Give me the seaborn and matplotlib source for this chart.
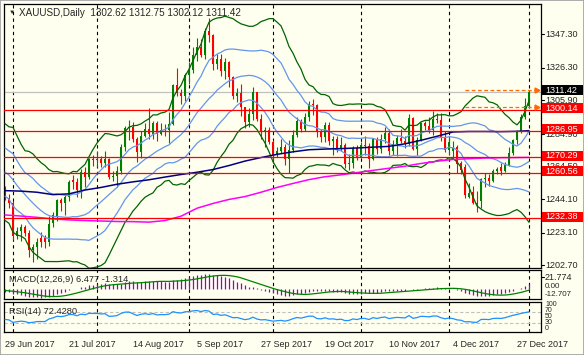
import numpy as np
import pandas as pd
import matplotlib
matplotlib.use("Agg")
import matplotlib.pyplot as plt
from matplotlib.patches import Rectangle
import seaborn as sns

# ------------------------------------------------------------------ data
symbol = "XAUUSD,Daily"
holidays = ["2017-12-25", "2018-01-01"]
dates = pd.bdate_range("2017-06-29", "2018-01-02")
dates = dates[~dates.isin(pd.to_datetime(holidays))]

opens = [1249.5, 1244.8, 1241.8, 1220.9, 1224.3, 1226.8, 1223.3, 1212.3, 1214.2, 1219.8,
         1219.8, 1217.4, 1229.3, 1233.4, 1243.6, 1241.7, 1245.6, 1256.0, 1255.2, 1249.9,
         1261.3, 1258.3, 1269.5, 1268.9, 1269.2, 1267.1, 1269.0, 1257.8, 1258.6, 1261.9,
         1276.8, 1288.4, 1289.4, 1281.8, 1273.6, 1283.6, 1288.3, 1284.7, 1291.8, 1285.0,
         1287.7, 1287.2, 1291.3, 1315.6, 1310.4, 1308.9, 1321.9, 1324.9, 1334.1, 1339.3,
         1334.5, 1349.5, 1346.7, 1328.6, 1332.1, 1324.1, 1329.8, 1320.4, 1308.9, 1310.7,
         1301.9, 1292.6, 1297.4, 1311.0, 1294.2, 1286.0, 1287.5, 1279.8, 1271.9, 1274.6,
         1276.6, 1269.1, 1274.8, 1284.5, 1293.0, 1288.3, 1295.8, 1303.6, 1302.9, 1285.9,
         1283.0, 1290.6, 1280.5, 1282.0, 1275.6, 1278.2, 1265.9, 1266.5, 1275.9, 1270.6,
         1277.8, 1277.6, 1269.5, 1281.5, 1275.4, 1282.0, 1285.4, 1274.2, 1278.7, 1282.2,
         1280.4, 1278.5, 1294.7, 1275.5, 1281.1, 1291.7, 1290.0, 1287.3, 1294.3, 1294.0,
         1282.7, 1275.0, 1274.4, 1276.5, 1266.5, 1264.5, 1245.7, 1248.5, 1242.0, 1243.0,
         1256.5, 1257.2, 1255.5, 1261.8, 1264.0, 1262.0, 1265.8, 1273.0, 1281.0, 1286.8,
         1295.5, 1302.62]
highs = [1252.5, 1247.5, 1242.8, 1227.0, 1228.5, 1228.1, 1224.6, 1216.0, 1220.0, 1223.7,
         1221.5, 1233.6, 1236.0, 1244.0, 1245.0, 1247.4, 1256.0, 1259.4, 1257.1, 1263.0,
         1264.0, 1270.0, 1271.7, 1274.3, 1271.2, 1274.0, 1270.0, 1262.0, 1264.7, 1278.4,
         1290.0, 1293.5, 1292.5, 1283.0, 1286.5, 1292.0, 1301.1, 1293.2, 1293.2, 1291.6,
         1290.9, 1298.6, 1316.0, 1326.1, 1313.0, 1322.9, 1330.2, 1339.4, 1344.8, 1344.5,
         1351.4, 1357.6, 1347.5, 1335.0, 1334.9, 1332.5, 1330.5, 1321.5, 1314.0, 1316.0,
         1301.9, 1301.5, 1314.3, 1311.0, 1297.2, 1289.6, 1289.6, 1281.4, 1276.8, 1281.5,
         1278.9, 1281.4, 1287.5, 1295.6, 1294.6, 1297.8, 1305.6, 1306.8, 1303.9, 1287.8,
         1292.5, 1292.4, 1283.9, 1283.4, 1283.3, 1279.4, 1272.6, 1277.7, 1278.3, 1279.8,
         1283.4, 1279.4, 1282.4, 1282.8, 1284.9, 1289.0, 1287.9, 1281.0, 1284.0, 1288.2,
         1283.7, 1297.5, 1295.4, 1283.0, 1292.5, 1293.1, 1295.4, 1299.6, 1297.8, 1298.0,
         1287.1, 1283.4, 1280.5, 1278.0, 1268.1, 1266.0, 1254.5, 1252.5, 1249.4, 1257.6,
         1260.8, 1259.7, 1263.1, 1264.2, 1266.9, 1267.6, 1276.5, 1281.7, 1287.4, 1297.6,
         1307.6, 1312.75]
lows = [1243.5, 1238.5, 1218.6, 1219.3, 1217.8, 1221.0, 1208.0, 1204.9, 1206.8, 1214.5,
        1213.5, 1214.6, 1226.8, 1230.4, 1236.7, 1234.2, 1243.3, 1250.5, 1245.4, 1245.0,
        1252.0, 1256.9, 1265.0, 1264.6, 1264.6, 1264.0, 1256.8, 1255.7, 1251.8, 1259.8,
        1274.1, 1281.2, 1280.2, 1267.5, 1269.8, 1282.9, 1281.8, 1281.8, 1280.7, 1284.6,
        1283.6, 1279.2, 1290.8, 1308.5, 1303.9, 1305.5, 1316.0, 1323.0, 1330.4, 1333.3,
        1331.8, 1342.6, 1325.0, 1325.6, 1321.4, 1319.3, 1314.5, 1307.0, 1305.1, 1295.9,
        1288.9, 1289.0, 1293.9, 1292.9, 1281.6, 1276.7, 1278.4, 1266.8, 1270.4, 1272.9,
        1265.8, 1260.8, 1273.6, 1283.3, 1286.0, 1286.5, 1292.8, 1297.0, 1282.8, 1279.7,
        1280.2, 1278.0, 1271.5, 1273.6, 1274.3, 1263.8, 1262.5, 1263.8, 1268.6, 1270.0,
        1271.7, 1263.6, 1268.9, 1272.6, 1273.0, 1279.0, 1271.7, 1271.7, 1271.3, 1279.5,
        1276.0, 1277.4, 1274.9, 1272.0, 1280.6, 1287.6, 1285.7, 1284.1, 1292.0, 1280.8,
        1273.8, 1271.6, 1270.1, 1260.5, 1260.1, 1244.7, 1244.6, 1241.0, 1236.4, 1238.4,
        1251.6, 1252.7, 1255.0, 1260.1, 1259.1, 1261.2, 1265.1, 1272.0, 1278.8, 1285.8,
        1294.6, 1302.12]
closes = [1244.7, 1241.6, 1220.9, 1224.3, 1226.8, 1223.3, 1212.3, 1214.2, 1217.4, 1217.6,
          1217.4, 1228.8, 1234.1, 1243.5, 1241.7, 1245.6, 1255.0, 1255.2, 1249.9, 1261.2,
          1258.3, 1269.5, 1268.9, 1269.2, 1267.1, 1269.0, 1257.8, 1258.6, 1261.9, 1276.8,
          1288.4, 1289.4, 1281.8, 1273.6, 1283.6, 1288.3, 1284.7, 1291.8, 1285.0, 1287.7,
          1287.2, 1291.3, 1315.6, 1310.4, 1308.9, 1321.9, 1324.9, 1334.1, 1339.3, 1334.5,
          1349.5, 1346.7, 1328.6, 1332.1, 1324.1, 1329.8, 1320.4, 1308.9, 1310.7, 1301.9,
          1292.6, 1297.4, 1311.0, 1294.2, 1286.0, 1287.5, 1279.8, 1271.9, 1274.6, 1276.6,
          1269.1, 1274.8, 1284.5, 1293.0, 1288.3, 1295.8, 1303.6, 1302.9, 1285.9, 1283.0,
          1290.6, 1280.5, 1282.0, 1275.6, 1278.2, 1265.9, 1266.5, 1275.9, 1270.6, 1277.8,
          1277.6, 1269.5, 1281.5, 1275.4, 1282.0, 1285.4, 1274.2, 1278.7, 1282.2, 1280.4,
          1278.5, 1294.7, 1275.5, 1281.1, 1291.7, 1290.0, 1287.3, 1294.3, 1294.0, 1282.7,
          1275.0, 1280.1, 1276.0, 1266.0, 1262.5, 1247.0, 1248.0, 1242.0, 1241.0, 1256.5,
          1257.2, 1255.5, 1261.8, 1263.0, 1262.0, 1265.8, 1273.0, 1281.0, 1286.8, 1295.5,
          1302.6, 1311.42]

# closes before the visible window (warm-up of the indicators)
prior_closes = [1255.6, 1256.3, 1248.6, 1228.4, 1228.1, 1226.6, 1215.3, 1219.2, 1224.7,
                1228.0, 1230.5, 1236.7, 1258.6, 1247.6, 1253.4, 1261.1, 1251.8, 1257.4,
                1256.9, 1267.5, 1266.6, 1262.6, 1268.1, 1264.6, 1279.6, 1280.6, 1293.2,
                1286.9, 1279.8, 1266.9, 1265.9, 1266.5, 1260.9, 1254.4, 1254.8, 1246.9,
                1242.5, 1246.3, 1249.6, 1256.3, 1246.4, 1251.3, 1249.2]

# moving averages, every 4th bar + last bar
ma_bars = list(range(0, 132, 4)) + [131]
ma100 = [1249.5, 1249.2, 1248.5, 1247.0, 1247.5, 1249.9, 1251.5, 1253.5, 1255.0, 1256.3,
         1258.0, 1259.6, 1261.0, 1262.7, 1265.2, 1268.0, 1270.2, 1272.2, 1273.8, 1275.1,
         1275.5, 1275.8, 1276.2, 1276.7, 1277.2, 1278.8, 1281.0, 1283.5, 1286.2, 1286.5,
         1286.5, 1286.4, 1286.6, 1287.0]
ma200 = [1234.3, 1233.6, 1232.8, 1231.8, 1231.2, 1230.8, 1230.5, 1230.2, 1230.1, 1229.8,
         1230.8, 1233.5, 1238.5, 1241.5, 1244.0, 1245.8, 1248.5, 1251.5, 1254.0, 1256.4,
         1258.2, 1259.4, 1260.8, 1262.2, 1263.5, 1264.8, 1266.5, 1267.9, 1269.0, 1269.5,
         1269.9, 1270.1, 1270.2, 1270.3]

red_levels = [1300.14, 1286.95, 1270.29, 1260.56, 1232.38]
alert_from_bar = 115
price_ticks = [1347.30, 1326.30, 1305.90, 1284.90, 1264.50, 1244.10, 1223.10, 1202.70]
macd_scale_labels = ["21.774", "0.00", "-12.707"]
rsi_scale_labels = ["100", "70", "50", "30", "0"]
macd_title = "MACD(12,26,9) 6.477 -1.314"
rsi_title = "RSI(14) 72.4280"
rsi_levels = [70, 30]

# ------------------------------------------------------------------ indicators
n_prior = len(prior_closes)
c_all = pd.Series(prior_closes + closes, dtype=float)
mid = c_all.rolling(20).mean().iloc[n_prior:].to_numpy()
sd = c_all.rolling(20).std(ddof=0).iloc[n_prior:].to_numpy()
ema12 = c_all.ewm(span=12, adjust=False).mean()
ema26 = c_all.ewm(span=26, adjust=False).mean()
macd_all = ema12 - ema26
macd = macd_all.iloc[n_prior:].to_numpy()
signal = macd_all.rolling(9).mean().iloc[n_prior:].to_numpy()
delta = c_all.diff()
ag = delta.clip(lower=0).ewm(alpha=1 / 14, adjust=False).mean()
al = (-delta.clip(upper=0)).ewm(alpha=1 / 14, adjust=False).mean()
rsi = (100 - 100 / (1 + ag / al)).iloc[n_prior:].to_numpy()

# ------------------------------------------------------------------ style
BG = "#FFFFF0"
sns.set_style("white")
plt.rcParams["font.family"] = ["Liberation Sans", "DejaVu Sans"]
plt.rcParams["font.size"] = 6.5

W, H = 584, 355
fig = plt.figure(figsize=(W / 100, H / 100), dpi=100)
fig.patch.set_facecolor(BG)


def rect(x0, y0, x1, y1):
    return [x0 / W, 1 - y1 / H, (x1 - x0) / W, (y1 - y0) / H]


ax = fig.add_axes(rect(4, 4, 541, 267.7))
axm = fig.add_axes(rect(4, 270, 541, 299.3))
axr = fig.add_axes(rect(4, 301.7, 541, 331.7))

x = np.arange(len(closes))
XL = (-0.25, 134)
for a in (ax, axm, axr):
    a.set_facecolor(BG)
    a.set_xlim(*XL)
    for s in a.spines.values():
        s.set_color("black")
        s.set_linewidth(0.9)
    a.tick_params(axis="both", which="both", length=0, labelsize=6.5)

ax.set_ylim(1201.3, 1366.25)
axm.set_ylim(-13.5, 25)
axr.set_ylim(-4.6, 110.8)

# month separators
sep = [i for i in range(1, len(dates)) if dates[i].month != dates[i - 1].month]
for a in (ax, axm, axr):
    for i in sep:
        a.axvline(i, color="black", lw=0.8, ls=(0, (3, 3)), zorder=1)

# candles
o = np.array(opens); h = np.array(highs); l = np.array(lows); c = np.array(closes)
up = c >= o
col = np.where(up, "#008000", "#FF0000")
ax.vlines(x, l, h, colors=col, lw=0.8, zorder=2)
body = np.maximum(np.abs(c - o), 0.6)
ax.bar(x, body, bottom=np.minimum(o, c), width=0.72, color=col, lw=0, zorder=2)

# bollinger bands (20,2) green and (20,1) blue, moving averages
sns.lineplot(x=x, y=mid + 2 * sd, ax=ax, color="#006400", lw=0.9, errorbar=None, zorder=3)
sns.lineplot(x=x, y=mid - 2 * sd, ax=ax, color="#006400", lw=0.9, errorbar=None, zorder=3)
for k in (1, 0, -1):
    sns.lineplot(x=x, y=mid + k * sd, ax=ax, color="#6495ED", lw=0.9, errorbar=None, zorder=3)
sns.lineplot(x=ma_bars, y=ma100, ax=ax, color="#000080", lw=1.1, errorbar=None, zorder=3)
sns.lineplot(x=ma_bars, y=ma200, ax=ax, color="#FF00FF", lw=1.1, errorbar=None, zorder=3)

# horizontal levels
for v in red_levels:
    ax.axhline(v, color="#FF0000", lw=0.9, zorder=4)
ax.axhline(closes[-1], color="#C0C0C0", lw=0.9, zorder=1.5)
for v in (highs[-1], lows[-1]):
    ax.plot([alert_from_bar, XL[1] - 1.3], [v, v], color="#FF6A00", lw=0.9,
            ls=(0, (3, 2)), zorder=4)
    ax.plot([XL[1] - 1.0], [v], marker=">", color="#FF6A00", ms=3.5, zorder=4)

for a in (ax, axm, axr):
    a.set_yticks([])
    a.set_xlabel("")
    a.set_ylabel("")
ax.set_xticks([])
axm.set_xticks([])

# right price scale
fig.canvas.draw()
for v in price_ticks:
    yd = ax.transData.transform((0, v))[1]
    fig.add_artist(plt.Line2D([541 / W, 544 / W], [yd / H, yd / H], color="black", lw=0.8))
    fig.text(545 / W, yd / H, f"{v:.2f}", fontsize=6.5, va="center", ha="left")

box_vals = [closes[-1]] + red_levels
box_cols = ["black"] + ["#FF0000"] * len(red_levels)
for v, bc in zip(box_vals, box_cols):
    yd = ax.transData.transform((0, v))[1] + 1.5
    fig.add_artist(Rectangle((541.5 / W, (yd - 5) / H), 41.5 / W, 10 / H,
                             transform=fig.transFigure, fc=bc, ec="none", zorder=5))
    fig.text(545 / W, yd / H, f"{v:.2f}", fontsize=6.5, va="center", ha="left",
             color="white", zorder=6)

# MACD
axm.vlines(x, 0, macd, colors="#9400D3", lw=0.9, zorder=2)
sns.lineplot(x=x, y=signal, ax=axm, color="#008000", lw=0.9, errorbar=None, zorder=3)
fig.text(9 / W, 1 - 279.3 / H, macd_title, fontsize=6.7, va="center", ha="left")
for lab, yp, fs in zip(macd_scale_labels, [277.0, 287.0, 295.0], [6.5, 5.8, 5.8]):
    fig.text(545 / W, 1 - yp / H, lab, fontsize=fs, va="center", ha="left")
fig.add_artist(plt.Line2D([541 / W, 544 / W], [1 - 277.0 / H] * 2, color="black", lw=0.8))

# RSI
for lv in rsi_levels:
    axr.axhline(lv, color="#C0C0C0", lw=0.8, ls=(0, (3, 2)), zorder=1)
sns.lineplot(x=x, y=rsi, ax=axr, color="#1E90FF", lw=0.9, errorbar=None, zorder=3)
fig.text(9 / W, 1 - 311 / H, rsi_title, fontsize=6.7, va="center", ha="left")
for lab, yp in zip(rsi_scale_labels, [305.0, 310.8, 316.6, 322.4, 328.2]):
    fig.text(545 / W, 1 - yp / H, lab, fontsize=5.0, va="center", ha="left")

# date axis
lab_idx = list(range(0, len(dates), 16))
axr.set_xticks(lab_idx)
axr.set_xticklabels([f"{dates[i].day} {dates[i]:%b %Y}" for i in lab_idx], ha="left")
axr.tick_params(axis="x", length=3, width=0.8, color="black", pad=3, labelsize=6.5)

# title
fig.text(12 / W, 1 - 12.5 / H, "\u25BC", fontsize=4.5, va="center", ha="center")
fig.text(19 / W, 1 - 13.3 / H,
         f"{symbol}  {opens[-1]:.2f} {highs[-1]:.2f} {lows[-1]:.2f} {closes[-1]:.2f}",
         fontsize=7.1, va="center", ha="left")

fig.add_artist(Rectangle((0, 0), 1, 1, transform=fig.transFigure, fill=False,
                         ec="#A0A0A0", lw=1.2))
fig.savefig("out.png", dpi=100, facecolor=BG)
